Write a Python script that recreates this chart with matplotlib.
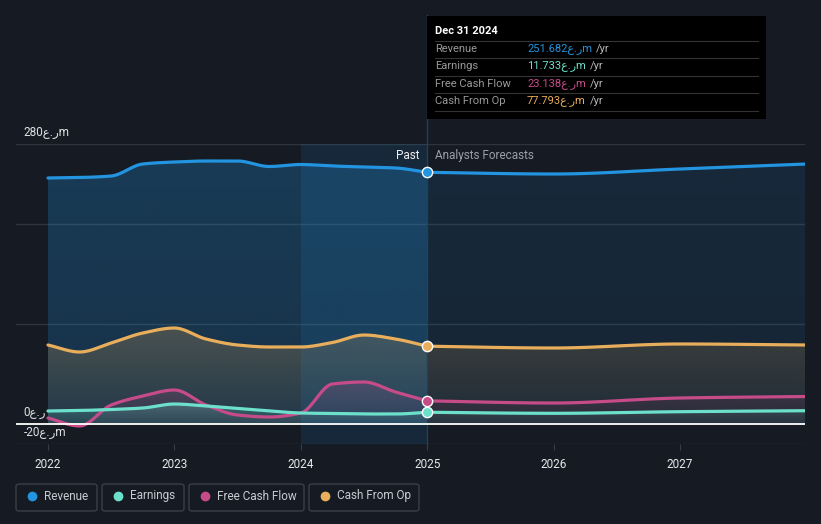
import numpy as np
import matplotlib
matplotlib.use("Agg")
import matplotlib.pyplot as plt
from matplotlib.patches import Polygon, FancyBboxPatch, Rectangle
from matplotlib.colors import to_rgb

# ---------------- data ----------------
past_years = [2022.0, 2022.25, 2022.5, 2022.75, 2023.0, 2023.25, 2023.5, 2023.75,
              2024.0, 2024.25, 2024.5, 2024.75, 2025.0]
revenue_past = [246, 246.5, 248, 260, 262, 263, 263, 257.5, 259.5, 258, 257, 256, 251.682]
earnings_past = [13, 13.5, 14.5, 16, 20, 18, 15.5, 13, 11, 10.5, 10, 10, 11.733]
fcf_past = [6, -2, 19, 28, 34, 19, 9, 7, 11, 40, 42, 32, 23.138]
cfo_past = [79, 72, 81, 91, 96, 85, 79, 77, 77, 81.5, 89, 85, 77.793]

fc_years = [2025.0, 2026.0, 2027.0, 2028.0]
revenue_fc = [251.682, 250, 255, 260]
earnings_fc = [11.733, 10.7, 12.3, 13.3]
fcf_fc = [23.138, 21, 26, 27.5]
cfo_fc = [77.793, 76, 80, 79]

series_names = ["Revenue", "Earnings", "Free Cash Flow", "Cash From Op"]
tooltip_values = ["251.682", "11.733", "23.138", "77.793"]
x_ticks = [2022, 2023, 2024, 2025, 2026, 2027]
y_labels = {280: "280\u0639.\u0631m", 0: "0\u0639.\u0631", -20: "-20\u0639.\u0631m"}
CUR = "\u0639.\u0631m"

# ---------------- style ----------------
BG = "#151a23"
C_REV = "#2394df"
C_EAR = "#6de0cc"
C_FCF = "#c64b89"
C_CFO = "#e8ae5b"
FONT = ["Roboto", "DejaVu Sans"]
W, H = 821, 524


def fx(x):
    return x / W


def fy(y):
    return 1 - y / H


def monotone(x, y, n=30):
    x = np.asarray(x, float)
    y = np.asarray(y, float)
    h = np.diff(x)
    d = np.diff(y) / h
    m = np.zeros_like(y)
    m[0], m[-1] = d[0], d[-1]
    for i in range(1, len(y) - 1):
        if d[i - 1] * d[i] <= 0:
            m[i] = 0
        else:
            w1 = 2 * h[i] + h[i - 1]
            w2 = h[i] + 2 * h[i - 1]
            m[i] = (w1 + w2) / (w1 / d[i - 1] + w2 / d[i])
    xs, ys = [], []
    for i in range(len(x) - 1):
        t = np.linspace(0, 1, n, endpoint=(i == len(x) - 2))
        h00 = 2 * t**3 - 3 * t**2 + 1
        h10 = t**3 - 2 * t**2 + t
        h01 = -2 * t**3 + 3 * t**2
        h11 = t**3 - t**2
        xs.append(x[i] + t * h[i])
        ys.append(h00 * y[i] + h10 * h[i] * m[i] + h01 * y[i + 1] + h11 * h[i] * m[i + 1])
    return np.concatenate(xs), np.concatenate(ys)


def grad_fill(ax, x, y, color, a_top, a_bot, z):
    verts = np.column_stack([np.r_[x, x[::-1]], np.r_[y, np.zeros_like(y)]])
    patch = Polygon(verts, closed=True, facecolor="none", edgecolor="none")
    ax.add_patch(patch)
    lo = min(0, y.min())
    hi = max(0, y.max())
    n = 200
    img = np.zeros((n, 2, 4))
    img[:, :, :3] = to_rgb(color)
    yy = np.linspace(lo, hi, n)
    frac = np.clip(yy / max(hi, 1e-9), 0, 1)
    img[:, :, 3] = (a_bot + (a_top - a_bot) * frac)[:, None]
    im = ax.imshow(img, extent=[x.min(), x.max(), lo, hi], origin="lower",
                   aspect="auto", zorder=z, interpolation="bilinear")
    im.set_clip_path(patch)


fig = plt.figure(figsize=(W / 100, H / 100), dpi=100, facecolor=BG)
ax = fig.add_axes([fx(16), fy(444), fx(805) - fx(16), fy(144) - fy(444)])
ax.set_facecolor(BG)
for s in ax.spines.values():
    s.set_visible(False)

x0 = 2022 + (16 - 48) / 126.4
x1 = 2022 + (805 - 48) / 126.4

# grid lines
for v in [280, 200, 100, -20]:
    ax.axhline(v, color="#2e343d", lw=1, zorder=1)

# highlight band 2024-2025
ax.axvspan(2024.0, 2025.0, ymin=0, ymax=1, color=C_REV, alpha=0.12, lw=0, zorder=6)

series = [
    (revenue_past, revenue_fc, C_REV, (0.27, 0.20), (0.12, 0.10)),
    (cfo_past, cfo_fc, C_CFO, (0.24, 0.05), (0.16, 0.04)),
    (fcf_past, fcf_fc, C_FCF, (0.22, 0.05), (0.12, 0.04)),
    (earnings_past, earnings_fc, C_EAR, (0.25, 0.08), (0.12, 0.05)),
]
z = 2
for past, fc, col, ap, af in series:
    xp, yp = monotone(past_years, past)
    xf, yf = monotone(fc_years, fc)
    grad_fill(ax, xp, yp, col, ap[0], ap[1], z)
    grad_fill(ax, xf, yf, col, af[0], af[1], z)
    z += 0.5

for past, fc, col, ap, af in series:
    xp, yp = monotone(past_years, past)
    xf, yf = monotone(fc_years, fc)
    ax.plot(xp, yp, color=col, lw=2.3, zorder=8, solid_capstyle="round")
    ax.plot(xf, yf, color=col, lw=2.3, zorder=8, solid_capstyle="round")
    ax.scatter([past_years[-1]], [past[-1]], s=55, color=col, edgecolors="white",
               linewidths=1.0, zorder=10)

# zero line
ax.axhline(0, color="white", lw=1.3, zorder=9)

# vertical line at today
ax.plot([2025.0, 2025.0], [-20, 409], color="#23405c", lw=1, zorder=7, clip_on=False)

ax.set_xlim(x0, x1)
ax.set_ylim(-20, 280)

ax.set_yticks([])
ax.set_xticks(x_ticks)
ax.set_xticklabels([str(t) for t in x_ticks], fontsize=8.5, color="#e8e8e8", family=FONT)
ax.tick_params(axis="x", length=4, color="#3a3f47", pad=6)

# y labels
for v, lab in y_labels.items():
    ax.annotate(lab, xy=(fx(24) - fx(16), v), xycoords=("axes fraction", "data"),
                xytext=(0, 8.5), textcoords="offset points", ha="left", va="center",
                fontsize=8.5, color="#e0e0e0", family=FONT)

# Past / forecasts labels
fig.text(fx(419), fy(156), "Past", ha="right", va="center", fontsize=8.5, color="#f0f0f0", family=FONT)
fig.text(fx(435), fy(156), "Analysts Forecasts", ha="left", va="center", fontsize=8.5,
         color="#9aa0a8", family=FONT)

# tooltip
fig.patches.append(Rectangle((fx(427), fy(119)), fx(766) - fx(427), fy(16) - fy(119),
                             transform=fig.transFigure, facecolor="black", edgecolor="none", zorder=20))
fig.text(fx(435), fy(31), "Dec 31 2024", ha="left", va="center", fontsize=8, color="white",
         family=FONT, fontweight="bold", zorder=21)
for yy in [41, 58, 76, 93, 111]:
    fig.lines.append(plt.Line2D([fx(435), fx(758)], [fy(yy), fy(yy)], transform=fig.transFigure,
                                color="#333333", lw=0.8, zorder=21))
row_y = [49, 66, 84, 101]
row_cols = [C_REV, C_EAR, C_FCF, C_CFO]
renderer = fig.canvas.get_renderer()
for name, val, ry, col in zip(series_names, tooltip_values, row_y, row_cols):
    fig.text(fx(435), fy(ry), name, ha="left", va="center", fontsize=8, color="#9a9a9a",
             family=FONT, zorder=21)
    t = fig.text(fx(527), fy(ry), val + CUR, ha="left", va="center", fontsize=8, color=col,
                 family=FONT, zorder=21)
    ext = t.get_window_extent(renderer=renderer)
    fig.text(ext.x1 / W + fx(4), fy(ry), "/yr", ha="left", va="center", fontsize=8,
             color="#b8b8b8", family=FONT, zorder=21)

# legend
boxes = [(16, 97), (102, 184), (189, 304), (309, 419)]
dots = [32, 118, 205, 325]
texts = [44, 130, 217, 337]
for name, col, (bx0, bx1), dx, tx in zip(series_names, row_cols, boxes, dots, texts):
    fig.patches.append(FancyBboxPatch((fx(bx0), fy(511)), fx(bx1) - fx(bx0), fy(484) - fy(511),
                                      boxstyle="round,pad=0,rounding_size=0.004",
                                      transform=fig.transFigure, facecolor="none",
                                      edgecolor="#3a3f48", lw=1))
    fig.lines.append(plt.Line2D([fx(dx)], [fy(496)], transform=fig.transFigure, marker="o",
                                markersize=6, color=col, lw=0))
    fig.text(fx(tx), fy(496), name, ha="left", va="center", fontsize=8.5, color="#c8ccd2",
             family=FONT)

fig.savefig("out.png", dpi=100, facecolor=BG)
